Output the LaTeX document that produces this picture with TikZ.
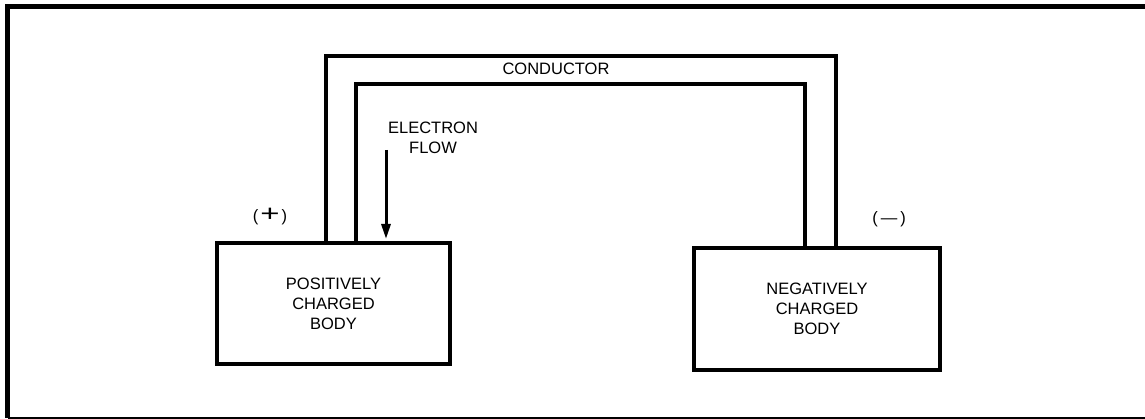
\documentclass[tikz,border=0pt]{standalone}
\usepackage{fontspec}
\setmainfont{Liberation Sans}
\usepackage{tikz}
\usetikzlibrary{arrows.meta,positioning}

\tikzset{
  body/.style={draw, line width=3.5pt, outer sep=0pt, align=center,
    font=\fontsize{16.5}{20}\selectfont},
  wire/.style={line width=3.5pt, line join=miter},
  flow/.style={line width=3pt, -{Triangle[length=15pt,width=9pt]}},
  lbl/.style={align=center, font=\fontsize{16.5}{20}\selectfont}
}

\begin{document}
\begin{tikzpicture}[x=1pt,y=-1pt]
\useasboundingbox (0,0) rectangle (1145,419);

% frame
\draw[line width=5pt] (1145,6.5) -| (7.5,418);
\draw[line width=2pt] (7.5,417.5) -- (1145,417.5);

% the two bodies
\node[body, minimum width=233pt, minimum height=121pt] (pos) at (333.5,303.5)
  {POSITIVELY\\CHARGED\\BODY};
\node[body, minimum width=246pt, minimum height=122pt] (neg) at (817,309)
  {NEGATIVELY\\CHARGED\\BODY};

% conductor
\coordinate (c1) at (326,56);
\coordinate (c2) at (836,56);
\coordinate (d1) at (356,84);
\coordinate (d2) at (805,84);
\draw[wire] (pos.north -| c1) -- (c1) -- (c2) -- (neg.north -| c2);
\draw[wire] (pos.north -| d1) -- (d1) -- (d2) -- (neg.north -| d2);
\node[lbl] (cond) at (556,69) {CONDUCTOR};

% electron flow
\coordinate (ftop) at (386,150);
\coordinate (fend) at (386,239);
\draw[flow] (ftop) -- (fend);
\node[lbl] (flowtxt) at (433,137.5) {ELECTRON\\FLOW};

% polarity
\node[lbl] (plus) at (270,217) {(\kern2pt\scalebox{2}[1.4]{+}\kern2pt)};
\node[lbl] (minus) at (889,219) {(\kern3pt\scalebox{1.8}[1]{\textendash}\kern3pt)};
\end{tikzpicture}
\end{document}
